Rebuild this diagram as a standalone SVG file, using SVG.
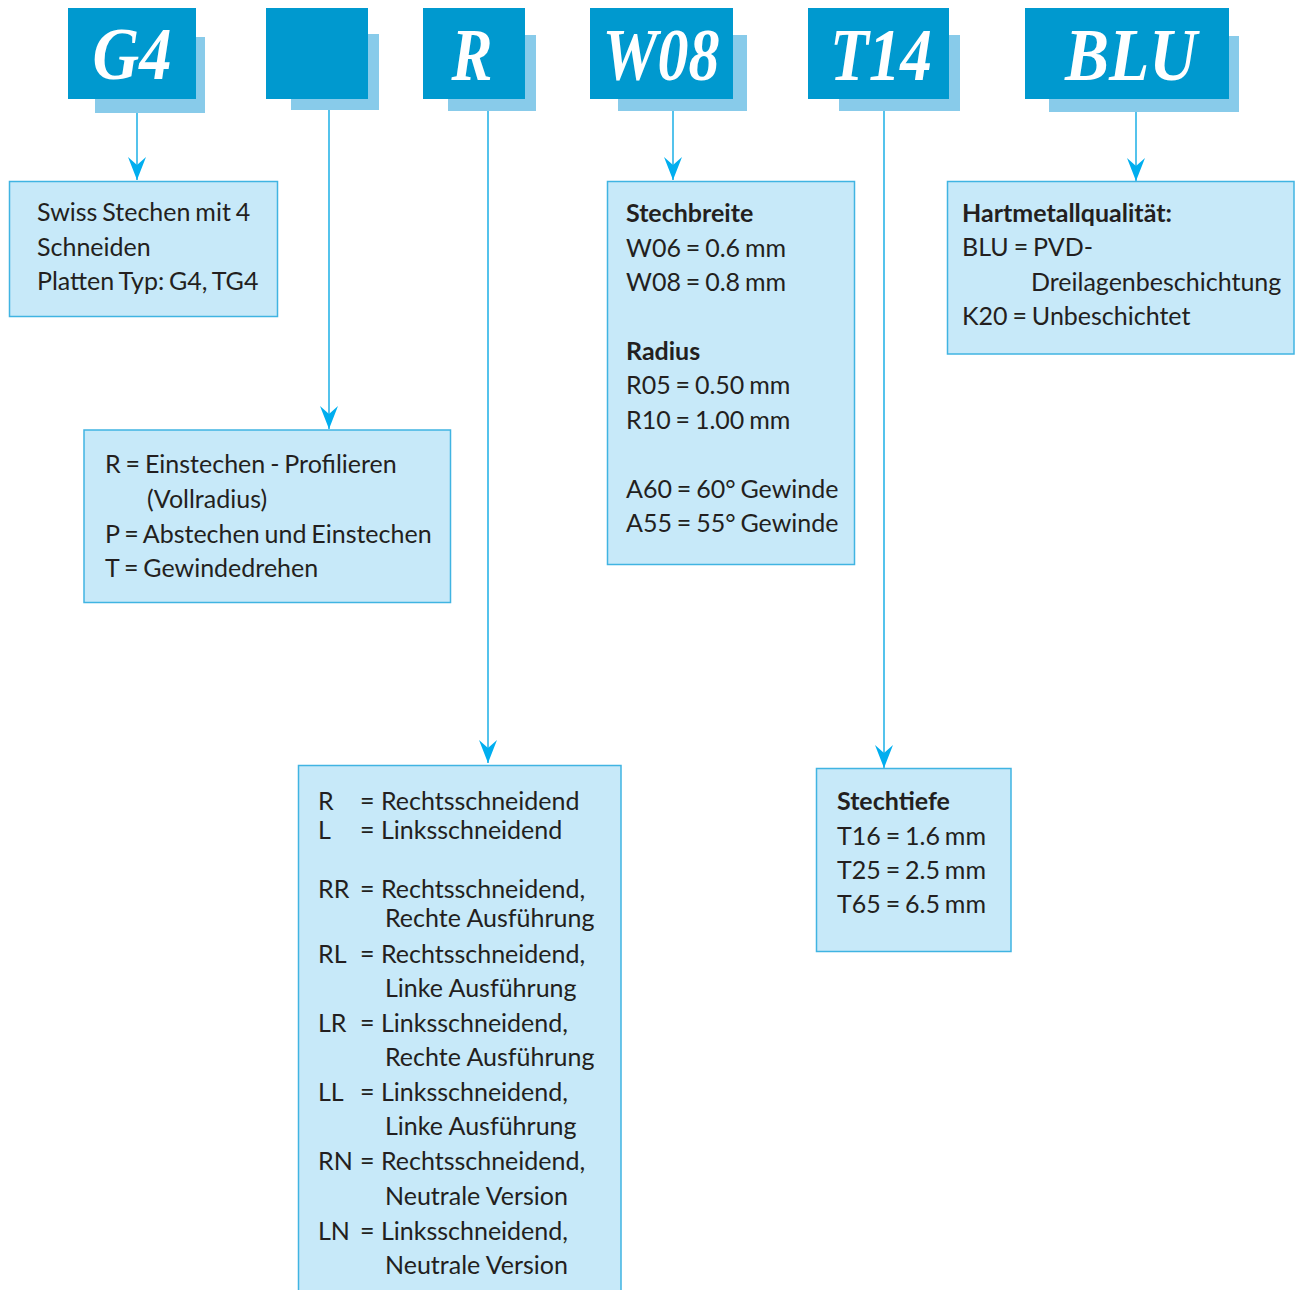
<svg xmlns="http://www.w3.org/2000/svg" width="1295" height="1290" viewBox="0 0 1295 1290">
<defs>
<style>
.sh{fill:#88cbea}
.fr{fill:#0099cf}
.hd{font-family:"Liberation Serif",serif;font-weight:bold;font-style:italic;font-size:74px;fill:#ffffff}
.box{fill:#c7e9f9;stroke:#40b4e2;stroke-width:1.5}
.t{font-family:Lato,"Open Sans",sans-serif;font-size:25px;fill:#231f20;word-spacing:-1.5px}
.n{word-spacing:0px}
.b{font-weight:bold}
.ln{stroke:#2ab4e8;stroke-width:1.6;fill:none}
</style>
<marker id="ah" markerWidth="26" markerHeight="20" refX="24" refY="10" orient="auto" markerUnits="userSpaceOnUse" viewBox="0 0 26 20">
<path d="M24,10 L1,1 L9,10 L1,19 Z" fill="#00aeef"/>
</marker>
</defs>
<rect width="1295" height="1290" fill="#ffffff"/>

<g id="hdr-G4">
<rect class="sh" x="95" y="37" width="110" height="76"/>
<rect class="fr" x="68" y="8" width="128" height="91"/>
<text class="hd" x="132" y="79" text-anchor="middle" textLength="79" lengthAdjust="spacingAndGlyphs">G4</text>
</g>
<g id="hdr-blank">
<rect class="sh" x="291" y="34" width="88" height="76"/>
<rect class="fr" x="266" y="8" width="102" height="91"/>
</g>
<g id="hdr-R">
<rect class="sh" x="448" y="35" width="88" height="76"/>
<rect class="fr" x="423" y="8" width="102" height="91"/>
<text class="hd" x="472" y="80" text-anchor="middle" textLength="41" lengthAdjust="spacingAndGlyphs">R</text>
</g>
<g id="hdr-W08">
<rect class="sh" x="618" y="35" width="129" height="76"/>
<rect class="fr" x="590" y="8" width="143" height="91"/>
<text class="hd" x="661" y="80" text-anchor="middle" textLength="117" lengthAdjust="spacingAndGlyphs">W08</text>
</g>
<g id="hdr-T14">
<rect class="sh" x="839" y="35" width="121" height="76"/>
<rect class="fr" x="808" y="8" width="141" height="91"/>
<text class="hd" x="881" y="80" text-anchor="middle" textLength="102" lengthAdjust="spacingAndGlyphs">T14</text>
</g>
<g id="hdr-BLU">
<rect class="sh" x="1049" y="36" width="190" height="76"/>
<rect class="fr" x="1025" y="8" width="204" height="91"/>
<text class="hd" x="1131" y="80" text-anchor="middle" textLength="132" lengthAdjust="spacingAndGlyphs">BLU</text>
</g>

<g id="connectors">
<line class="ln" x1="137" y1="113" x2="137" y2="180" marker-end="url(#ah)"/>
<line class="ln" x1="329" y1="110" x2="329" y2="429" marker-end="url(#ah)"/>
<line class="ln" x1="488" y1="111" x2="488" y2="763" marker-end="url(#ah)"/>
<line class="ln" x1="673" y1="111" x2="673" y2="180" marker-end="url(#ah)"/>
<line class="ln" x1="884" y1="111" x2="884" y2="768" marker-end="url(#ah)"/>
<line class="ln" x1="1136" y1="112" x2="1136" y2="181" marker-end="url(#ah)"/>
</g>

<g id="box-G4">
<rect class="box" x="9.5" y="181.5" width="268" height="135"/>
<text class="t" x="37" y="221">Swiss Stechen mit 4</text>
<text class="t" x="37" y="255.5">Schneiden</text>
<text class="t" x="37" y="290">Platten Typ: G4, TG4</text>
</g>

<g id="box-type">
<rect class="box" x="84" y="430" width="366.5" height="172.5"/>
<text class="t" x="105" y="473">R = Einstechen - Profilieren</text>
<text class="t" x="147" y="508">(Vollradius)</text>
<text class="t" x="105" y="543">P = Abstechen und Einstechen</text>
<text class="t" x="105" y="577">T = Gewindedrehen</text>
</g>

<g id="box-W08">
<rect class="box" x="607.5" y="181.5" width="247" height="383"/>
<text class="t b" x="626" y="222">Stechbreite</text>
<text class="t" x="626" y="257">W06 = 0.6 mm</text>
<text class="t" x="626" y="291">W08 = 0.8 mm</text>
<text class="t b" x="626" y="360">Radius</text>
<text class="t" x="626" y="394">R05 = 0.50 mm</text>
<text class="t" x="626" y="429">R10 = 1.00 mm</text>
<text class="t" x="626" y="498">A60 = 60° Gewinde</text>
<text class="t" x="626" y="532">A55 = 55° Gewinde</text>
</g>

<g id="box-BLU">
<rect class="box" x="947.5" y="181.5" width="346.5" height="172.5"/>
<text class="t b" x="962" y="222">Hartmetallqualität:</text>
<text class="t" x="962" y="256">BLU = PVD-</text>
<text class="t" x="1031" y="291">Dreilagenbeschichtung</text>
<text class="t" x="962" y="325">K20 = Unbeschichtet</text>
</g>

<g id="box-T14">
<rect class="box" x="816.5" y="768.5" width="194.5" height="183"/>
<text class="t b" x="837" y="810">Stechtiefe</text>
<text class="t" x="837" y="845">T16 = 1.6 mm</text>
<text class="t" x="837" y="879">T25 = 2.5 mm</text>
<text class="t" x="837" y="913">T65 = 6.5 mm</text>
</g>

<g id="box-R">
<rect class="box" x="298.5" y="765.5" width="322.5" height="540"/>
<text class="t n" x="318" y="810">R</text><text class="t n" x="360" y="810">= Rechtsschneidend</text>
<text class="t n" x="318" y="839">L</text><text class="t n" x="360" y="839">= Linksschneidend</text>
<text class="t n" x="318" y="898">RR</text><text class="t n" x="360" y="898">= Rechtsschneidend,</text>
<text class="t n" x="385" y="927">Rechte Ausführung</text>
<text class="t n" x="318" y="963">RL</text><text class="t n" x="360" y="963">= Rechtsschneidend,</text>
<text class="t n" x="385" y="997">Linke Ausführung</text>
<text class="t n" x="318" y="1032">LR</text><text class="t n" x="360" y="1032">= Linksschneidend,</text>
<text class="t n" x="385" y="1066">Rechte Ausführung</text>
<text class="t n" x="318" y="1101">LL</text><text class="t n" x="360" y="1101">= Linksschneidend,</text>
<text class="t n" x="385" y="1135">Linke Ausführung</text>
<text class="t n" x="318" y="1170">RN</text><text class="t n" x="360" y="1170">= Rechtsschneidend,</text>
<text class="t n" x="385" y="1205">Neutrale Version</text>
<text class="t n" x="318" y="1240">LN</text><text class="t n" x="360" y="1240">= Linksschneidend,</text>
<text class="t n" x="385" y="1274">Neutrale Version</text>
</g>
</svg>
